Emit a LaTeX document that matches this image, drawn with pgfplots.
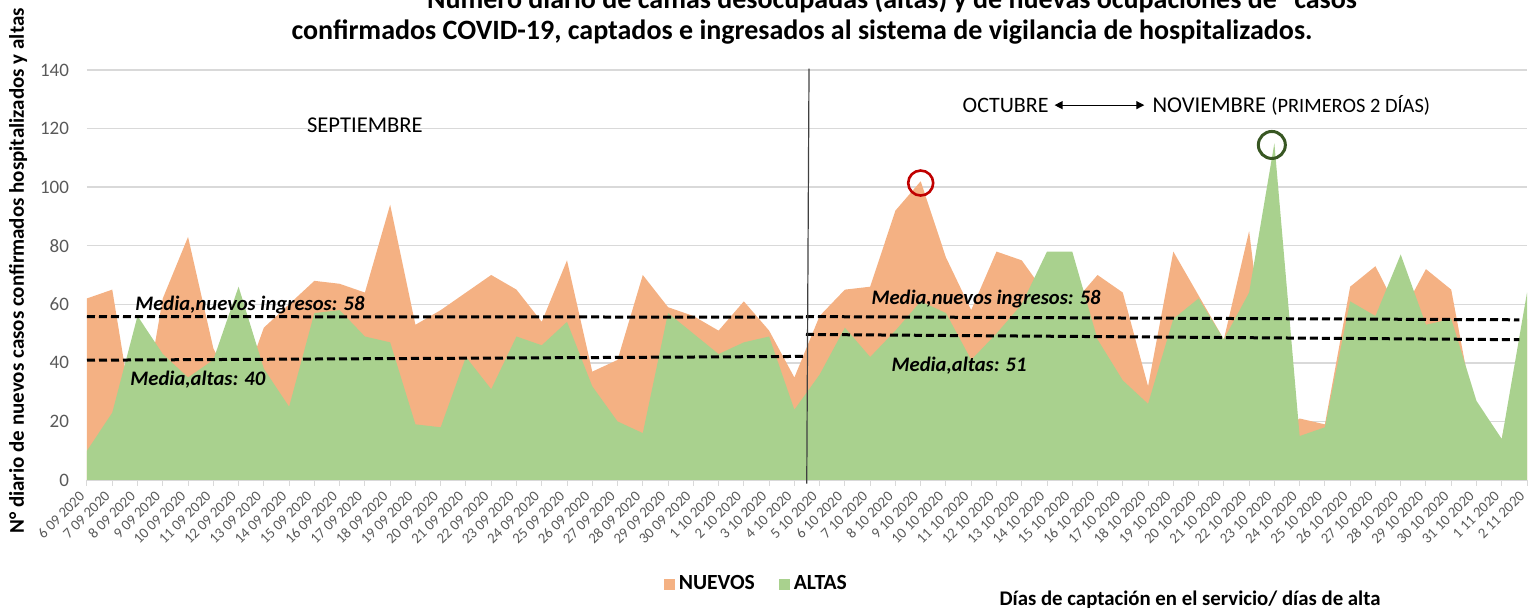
\documentclass[border=0pt]{standalone}
\usepackage{fontspec}
\setmainfont{Carlito}
\usepackage{pgfplots}
\usepackage{pgfplotstable}
\pgfplotsset{compat=1.18}
\usetikzlibrary{arrows.meta}
\definecolor{nuevos}{RGB}{244,177,131}
\definecolor{altas}{RGB}{169,209,142}
\definecolor{gridc}{RGB}{217,217,217}
\definecolor{tickc}{RGB}{89,89,89}
\definecolor{redc}{RGB}{192,0,0}
\definecolor{dgreen}{RGB}{56,87,35}
\pgfplotstableread{
x nuevos altas
0 62 10
1 65 23
2 12 56
3 62 43
4 83 35
5 45 41
6 28 66
7 52 38
8 60 25
9 68 57
10 67 58
11 64 49
12 94 47
13 53 19
14 58 18
15 64 42
16 70 31
17 65 49
18 54 46
19 75 54
20 37 32
21 41 20
22 70 16
23 59 57
24 56 50
25 51 43
26 61 47
27 51 49
28 35 24
29 56 36
30 65 52
31 66 42
32 92 51
33 102 61
34 76 57
35 58 41
36 78 50
37 75 60
38 63 78
39 60 78
40 70 48
41 64 34
42 32 26
43 78 55
44 63 62
45 48 48
46 85 64
47 15 115
48 21 15
49 19 18
50 66 61
51 73 56
52 56 77
53 72 53
54 65 55
55 19 27
56 14 14
57 55 64
}\datatable
\begin{document}
\begin{tikzpicture}
\begin{axis}[
  name=ax,
  scale only axis, width=720pt, height=205pt,
  xmin=0, xmax=57, ymin=0, ymax=140,
  xtick={0,...,57},
  xticklabels={6 09 2020,7 09 2020,8 09 2020,9 09 2020,10 09 2020,11 09 2020,12 09 2020,13 09 2020,14 09 2020,15 09 2020,16 09 2020,17 09 2020,18 09 2020,19 09 2020,20 09 2020,21 09 2020,22 09 2020,23 09 2020,24 09 2020,25 09 2020,26 09 2020,27 09 2020,28 09 2020,29 09 2020,30 09 2020,1 10 2020,2 10 2020,3 10 2020,4 10 2020,5 10 2020,6 10 2020,7 10 2020,8 10 2020,9 10 2020,10 10 2020,11 10 2020,12 10 2020,13 10 2020,14 10 2020,15 10 2020,16 10 2020,17 10 2020,18 10 2020,19 10 2020,20 10 2020,21 10 2020,22 10 2020,23 10 2020,24 10 2020,25 10 2020,26 10 2020,27 10 2020,28 10 2020,29 10 2020,30 10 2020,31 10 2020,1 11 2020,2 11 2020},
  ytick={0,20,...,140},
  ymajorgrids, grid style={gridc, line width=0.7pt},
  axis x line*=bottom, axis y line*=left,
  x axis line style={gridc, line width=0.7pt, -},
  y axis line style={draw=none},
  ytick style={draw=none},
  xtick style={gridc, line width=0.5pt},
  tick align=outside, major tick length=3pt,
  /pgf/number format/assume math mode=true,
  yticklabel style={font=\fontsize{9.5}{11}\selectfont, text=tickc, xshift=-2.5pt},
  xticklabel style={yshift=-1.5pt, rotate=45, anchor=east, font=\fontsize{7.4}{8}\selectfont, text=tickc},
  ylabel={N° diario de nuevos casos confirmados hospitalizados  y altas},
  ylabel style={at={(axis description cs:-0.0479,0.51)}, anchor=center, font=\bfseries\fontsize{10.5}{12}\selectfont},
  xlabel={Días de captación en el servicio/ días de alta},
  xlabel style={at={(axis description cs:0.766,-0.2927)}, anchor=center, font=\bfseries\fontsize{10.4}{12}\selectfont},
  legend style={at={(axis description cs:0.4655,-0.2537)}, anchor=center, draw=none, fill=none, legend columns=2, font=\bfseries\fontsize{10.8}{12}\selectfont, /tikz/every even column/.append style={column sep=10pt}},
  legend image code/.code={\fill[#1] (0pt,-2.75pt) rectangle (5.5pt,2.75pt);},
  clip=false,
]
\addplot[fill=nuevos, draw=none] table[x=x,y=nuevos]{\datatable} \closedcycle;
\addlegendentry{NUEVOS}
\addplot[fill=altas, draw=none] table[x=x,y=altas]{\datatable} \closedcycle;
\addlegendentry{ALTAS}
\addplot[black, line width=1.5pt, dash pattern=on 4pt off 2pt, forget plot] coordinates {(0,55.8) (28.46,55.6)};
\addplot[black, line width=1.5pt, dash pattern=on 4pt off 2pt, forget plot] coordinates {(0,40.9) (28.46,42.2)};
\addplot[black, line width=1.5pt, dash pattern=on 4pt off 2pt, forget plot] coordinates {(28.46,55.8) (56.7,54.7)};
\addplot[black, line width=1.5pt, dash pattern=on 4pt off 2pt, forget plot] coordinates {(28.46,49.7) (56.7,47.9)};
\draw[black!75, line width=0.6pt] (axis cs:28.49,-1.2) -- (axis cs:28.58,140.5);
\node[font=\bfseries\itshape\fontsize{10.3}{12}\selectfont] at (axis cs:6.45,59.7) {Media,nuevos ingresos: 58};
\node[font=\bfseries\itshape\fontsize{10.3}{12}\selectfont] at (axis cs:4.39,34.1) {Media,altas: 40};
\node[font=\bfseries\itshape\fontsize{10.3}{12}\selectfont] at (axis cs:35.59,61.8) {Media,nuevos ingresos: 58};
\node[font=\bfseries\itshape\fontsize{10.3}{12}\selectfont] at (axis cs:34.52,39.2) {Media,altas: 51};
\node[font=\fontsize{11.3}{13}\selectfont] at (axis cs:11.0,121.2) {SEPTIEMBRE};
\node[font=\fontsize{11}{13}\selectfont, anchor=east, inner sep=0pt] at (axis cs:38.08,128) {OCTUBRE};
\draw[{Triangle[length=4pt,width=4pt]}-{Triangle[length=4pt,width=4pt]}, line width=0.6pt] (axis cs:38.3,128) -- (axis cs:41.85,128);
\node[font=\fontsize{11.3}{13}\selectfont, anchor=west, inner sep=0pt] at (axis cs:42.16,128) {NOVIEMBRE {\fontsize{10.2}{11}\selectfont(PRIMEROS 2 DÍAS)}};
\draw[redc, line width=1.3pt] (axis cs:33.0,101.4) circle[radius=6.25pt];
\draw[dgreen, line width=1.5pt] (axis cs:46.9,114.4) circle[radius=6.75pt];
\node[font=\bfseries\fontsize{14}{16}\selectfont, anchor=base] at (axis description cs:0.559,1.151) {Número diario de camas desocupadas (altas) y de nuevas ocupaciones de “casos};
\node[font=\bfseries\fontsize{14}{16}\selectfont, anchor=base] at (axis description cs:0.4965,1.0732) {confirmados COVID-19, captados e ingresados al sistema de vigilancia de hospitalizados.};
\end{axis}
\pgfresetboundingbox
\useasboundingbox ([xshift=-43.5pt,yshift=-64pt]ax.south west) rectangle ++(765pt,304pt);
\end{tikzpicture}
\end{document}
